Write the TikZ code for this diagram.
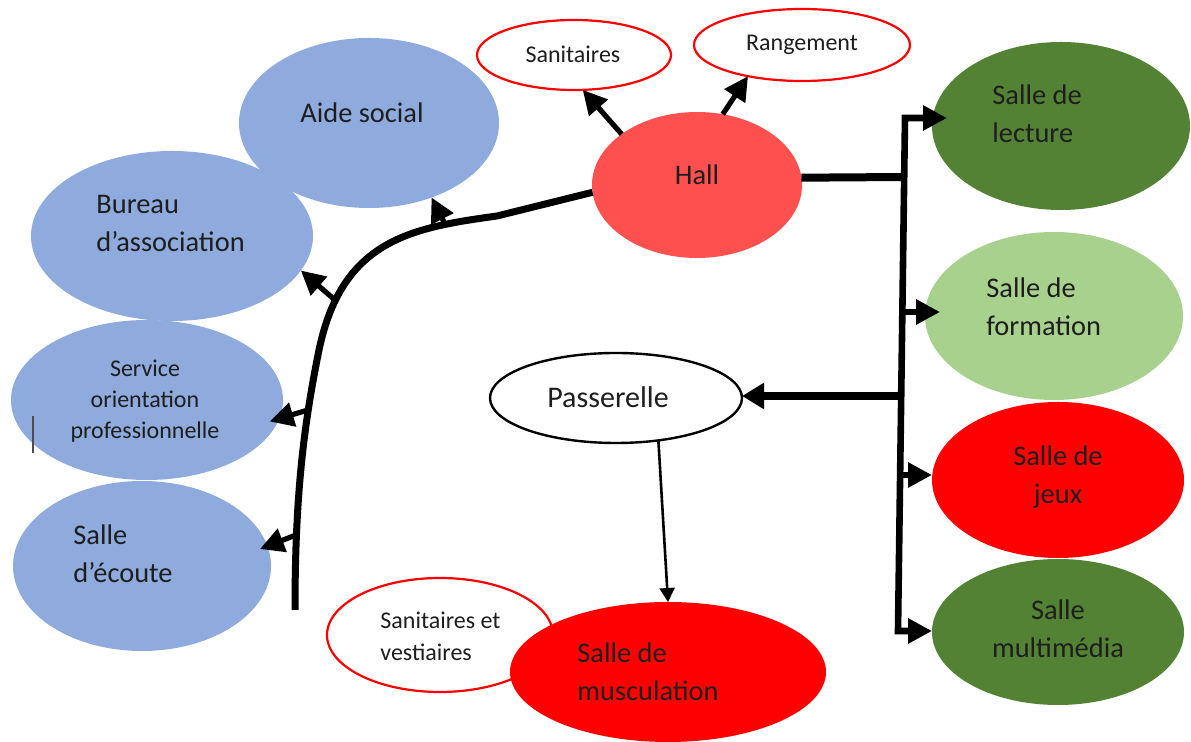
\documentclass[tikz,border=0pt]{standalone}
\usepackage{fontspec}
\setmainfont{Carlito}
\usetikzlibrary{shapes.geometric,arrows.meta}
\definecolor{cblue}{HTML}{8FAADC}
\definecolor{chall}{HTML}{FF5050}
\definecolor{cdgreen}{HTML}{548235}
\definecolor{clgreen}{HTML}{A9D18E}
\definecolor{cred}{HTML}{FF0000}
\definecolor{ctxt}{HTML}{1E1E1E}
\tikzset{
  room/.style={ellipse, inner sep=0pt, outer sep=0pt, draw=none},
  annex/.style={ellipse, inner sep=0pt, outer sep=0pt, draw=cred, line width=1.1pt, fill=white},
  bigtxt/.style={font=\fontsize{14.2}{19}\selectfont, text=ctxt, inner sep=0pt},
  smalltxt/.style={font=\fontsize{12}{16}\selectfont, text=ctxt, inner sep=0pt},
  branch/.style={line width=2.6pt, -{Triangle[length=12pt,width=12pt]}},
  bus/.style={line width=3.3pt},
  thinarrow/.style={line width=1.3pt, -{Triangle[length=7pt,width=7.5pt]}},
}
\begin{document}
\begin{tikzpicture}[x=0.5pt,y=-0.5pt]
\useasboundingbox (0,0) rectangle (1191,742);
\fill[white] (0,0) rectangle (1191,742);

% left rooms
\node[room, fill=cblue, minimum width=141pt, minimum height=85pt] (bureau) at (172,236) {};
\node[room, fill=cblue, minimum width=130pt, minimum height=85pt] (aide) at (369,123) {};
\node[room, fill=cblue, minimum width=136pt, minimum height=80pt] (service) at (147,400) {};
\node[room, fill=cblue, minimum width=129pt, minimum height=85pt] (ecoute) at (142,566) {};

% hall and annexes
\node[annex, minimum width=97pt, minimum height=35pt] (sanit) at (574,55) {};
\node[annex, minimum width=108pt, minimum height=36pt] (rang) at (802,45) {};
\node[room, fill=chall, minimum width=105pt, minimum height=73pt] (hall) at (697,185) {};

% right rooms
\node[room, fill=cdgreen, minimum width=129pt, minimum height=84pt] (lecture) at (1061,126) {};
\node[room, fill=clgreen, minimum width=129pt, minimum height=84pt] (formation) at (1054,316) {};
\node[room, fill=cred, minimum width=126pt, minimum height=78pt] (jeux) at (1058,480) {};
\node[room, fill=cdgreen, minimum width=126pt, minimum height=73pt] (multi) at (1058,632) {};

% passerelle and musculation
\node[ellipse, inner sep=0pt, outer sep=0pt, draw=black, line width=1.2pt, fill=white, minimum width=126pt, minimum height=45pt] (pass) at (616,398) {};
\node[annex, minimum width=113pt, minimum height=57pt] (sanves) at (440,635) {};
\node[room, fill=cred, minimum width=158pt, minimum height=70pt] (musc) at (668,672) {};

% texts
\node[bigtxt] (taide) at (362,113) {Aide social};
\node[bigtxt, anchor=west, align=left] (tbureau) at (96,224) {Bureau\\d’association};
\node[smalltxt, align=center, font=\fontsize{12}{15.5}\selectfont] (tservice) at (145,401) {Service\\orientation\\professionnelle};
\node[bigtxt, anchor=west, align=left] (tecoute) at (73,554) {Salle\\d’écoute};
\node[smalltxt] (tsanit) at (573,54) {Sanitaires};
\node[smalltxt] (trang) at (802,45) {Rangement};
\node[bigtxt] (thall) at (697,175) {Hall};
\node[bigtxt, anchor=west, align=left] (tlecture) at (992,114) {Salle de\\lecture};
\node[bigtxt, anchor=west, align=left] (tformation) at (986,307) {Salle de\\formation};
\node[bigtxt, align=center] (tjeux) at (1058,477) {Salle de\\jeux};
\node[bigtxt, align=center] (tmulti) at (1058,629) {Salle\\multimédia};
\node[bigtxt, font=\fontsize{15}{19}\selectfont] (tpass) at (608,397) {Passerelle};
\node[smalltxt, anchor=west, align=left] (tsanves) at (380,636) {Sanitaires et\\vestiaires};
\node[bigtxt, anchor=west, align=left] (tmusc) at (577,672) {Salle de\\musculation};

% text cursor mark
\draw[gray!60!black, line width=0.6pt] (33,416) -- (33,453);

% left corridor curve
\coordinate (ckink) at (497,216);
\coordinate (cmid) at (318,355);
\coordinate (cend) at (295,610);
\draw[bus, line width=3.5pt] (hall.184) -- (ckink) .. controls (410,228) and (340,240) .. (cmid) .. controls (303,430) and (295,500) .. (cend);
\coordinate (bA) at (445,224);
\coordinate (bB) at (335,300);
\coordinate (bC) at (308,410);
\coordinate (bD) at (296,535);
\draw[branch] (bA) -- (aide.310);
\draw[branch] (bB) -- (bureau.345);
\draw[branch, shorten >=-5pt] (bC) -- (service.352);
\draw[branch, shorten >=-4pt] (bD) -- (ecoute.9);

% hall annex arrows
\draw[branch] (hall.146) -- (sanit.284);
\draw[branch] (hall.70) -- (rang.210);

% right bus
\coordinate (tTop) at (905,118);
\coordinate (tH) at (904,177);
\coordinate (tF) at (903,312);
\coordinate (tP) at (902,396);
\coordinate (tJ) at (901,475);
\coordinate (tBot) at (898,631);
\draw[line width=4pt] (hall.4) -- (tH);
\draw[bus, {Triangle[length=12pt,width=12pt]}-{Triangle[length=12pt,width=12pt]}, shorten <=-7.5pt]
  (tTop -| lecture.west) -- (tTop) -- (tBot) -- (tBot -| multi.west);
\draw[bus, -{Triangle[length=12pt,width=12pt]}, shorten >=-7.5pt] (tF) -- (tF -| formation.west);
\draw[bus, -{Triangle[length=12pt,width=12pt]}] (tJ) -- (tJ -| jeux.west);
\draw[line width=3.6pt, -{Triangle[length=11pt,width=12.5pt]}] (tP) -- (tP -| pass.east);

% passerelle to musculation
\draw[thinarrow] (pass.315) -- (musc.north);
\end{tikzpicture}
\end{document}
